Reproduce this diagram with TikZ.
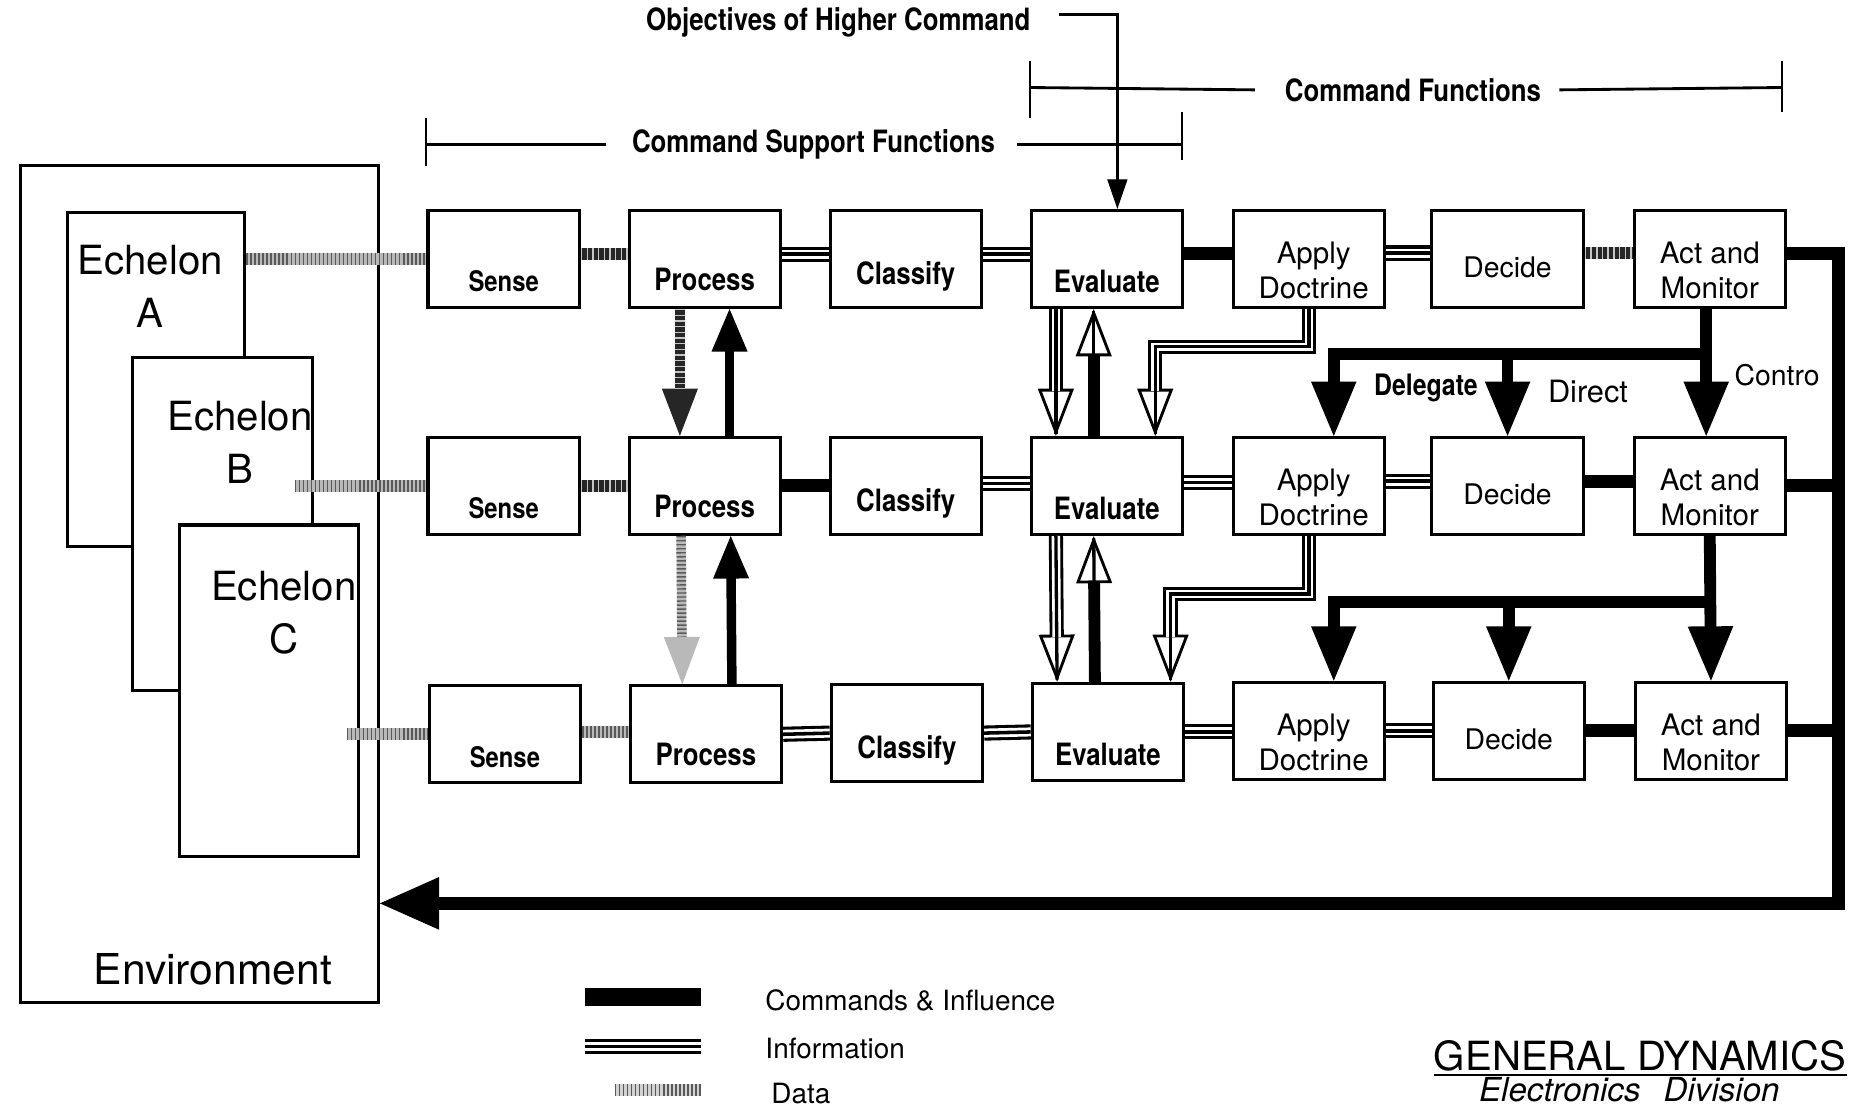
\documentclass[tikz,border=0pt]{standalone}
\usepackage{fontspec}
\setmainfont{TeX Gyre Heros}
\newfontfamily\nar[FakeStretch=0.84]{TeX Gyre Heros}
\usetikzlibrary{arrows.meta}
\begin{document}
\begin{tikzpicture}[x=0.5pt,y=-0.5pt,
  box/.style={draw,line width=1.3pt,fill=white,minimum width=64pt,minimum height=41pt,inner sep=0pt},
  echbox/.style={draw,line width=1.3pt,fill=white,inner sep=0pt},
  nb/.style={font=\nar\bfseries\fontsize{13}{15}\selectfont,inner sep=0pt},
  nbs/.style={font=\nar\bfseries\fontsize{12}{14}\selectfont,inner sep=0pt},
  rg/.style={font=\fontsize{12.5}{14.8}\selectfont,align=center,inner sep=0pt},
  big/.style={font=\fontsize{17}{22.5}\selectfont,align=center,inner sep=0pt},
  lg/.style={font=\fontsize{11.8}{14}\selectfont,anchor=west,inner sep=0pt},
  cmd/.style={draw=black,line width=5.5pt},
  info/.style={draw=black,line width=6.4pt,postaction={draw=white,line width=3.8pt},postaction={draw=black,line width=1.5pt}},
  data/.style={draw=gray!55,line width=5pt,postaction={draw=black!65,line width=5pt,dash pattern=on 0.6pt off 1.1pt}},
  ddata/.style={draw=black!85,line width=5pt,postaction={draw=gray!45,line width=5pt,dash pattern=on 0.6pt off 1.8pt}},
  cmdarr/.style={draw=black,line width=5pt,-{Triangle[length=23pt,width=19pt,line width=1pt]}},
  procarr/.style={draw=black,line width=4pt,-{Triangle[length=18pt,width=15pt,line width=1pt]}},
  ddataarr/.style={draw=black!85,line width=4pt,-{Triangle[length=20pt,width=15pt,line width=1pt]},postaction={draw=gray!45,line width=4pt,arrows=-,dash pattern=on 0.6pt off 1.8pt,shorten >=20pt}},
  dataarr/.style={draw=gray!55,line width=4pt,-{Triangle[length=20pt,width=15pt,fill=gray!55,line width=1pt]},postaction={draw=black!65,line width=4pt,arrows=-,dash pattern=on 0.6pt off 1.1pt,shorten >=20pt}},
  infoarr/.style={draw=black,line width=6pt,-{Triangle[length=20pt,width=15pt,fill=white,line width=1.2pt]},postaction={draw=white,line width=3.6pt,arrows=-,shorten >=19pt},postaction={draw=black,line width=1.4pt,arrows=-,shorten >=1pt}},
  uparr/.style={draw=black,line width=5pt,-{Triangle[length=20pt,width=15pt,fill=white,line width=1.2pt]},postaction={draw=black,line width=1.4pt,arrows=-,shorten >=1pt}},
  brk/.style={line width=1.2pt},
  tk/.style={line width=0.8pt}
]
\useasboundingbox (0,0) rectangle (1568,939);

% ---------- environment and echelons
\node[echbox,minimum width=151.5pt,minimum height=354pt] (env) at (168.5,494) {};
\node[echbox,minimum width=75pt,minimum height=141pt] (echA) at (132,321) {};
\node[big] (tA) at (127,242) {Echelon\\A};
\node[echbox,minimum width=76pt,minimum height=141pt] (echB) at (188,443) {};
\node[big] (tB) at (203,374) {Echelon\\B};
\node[echbox,minimum width=75.5pt,minimum height=140pt] (echC) at (227.5,584) {};
\node[big] (tC) at (240,518) {Echelon\\C};
\node[big,font=\fontsize{18}{20}\selectfont] (tE) at (180,820) {Environment};

% ---------- boxes, top row
\node[box] (s1) at (426,219) {};
\node[box] (p1) at (596,219) {};
\node[box] (c1) at (766,219) {};
\node[box] (e1) at (936,219) {};
\node[box] (a1) at (1107,219) {};
\node[box] (d1) at (1275,219) {};
\node[box] (m1) at (1446,219) {};
% middle row
\node[box] (s2) at (426,411) {};
\node[box] (p2) at (596,411) {};
\node[box] (c2) at (766,411) {};
\node[box] (e2) at (936,411) {};
\node[box] (a2) at (1107,411) {};
\node[box] (d2) at (1275,411) {};
\node[box] (m2) at (1446,411) {};
% bottom row
\node[box] (s3) at (427,621) {};
\node[box] (p3) at (597,621) {};
\node[box] (c3) at (767,620) {};
\node[box] (e3) at (937,619) {};
\node[box] (a3) at (1107,618) {};
\node[box] (d3) at (1276,618) {};
\node[box] (m3) at (1447,618) {};

% ---------- box texts
\foreach \r in {1,2,3}{
  \node[nbs] (s\r t) at ([yshift=-9.5pt]s\r.center) {Sense};
  \node[nb] (p\r t) at ([yshift=-8.5pt]p\r.center) {Process};
  \node[nb] (c\r t) at ([yshift=-7.5pt]c\r.center) {Classify};
  \node[nb] (e\r t) at ([yshift=-9.5pt]e\r.center) {Evaluate};
  \node[rg] (a\r t) at ([xshift=2pt,yshift=-5pt]a\r.center) {Apply\\Doctrine};
  \node[rg,font=\fontsize{12}{14}\selectfont] (d\r t) at ([yshift=-3.5pt]d\r.center) {Decide};
  \node[rg] (m\r t) at ([yshift=-5pt]m\r.center) {Act and\\Monitor};
}

% ---------- top labels
\node[nb] (obj) at (709,19) {Objectives of Higher Command};
\draw[line width=1.4pt,-{Triangle[length=12.5pt,width=8.5pt,line width=0.5pt]}]
  ([xshift=12pt,yshift=3.5pt]obj.east) -| ([xshift=4.5pt]e1.north);

\node[nb] (cf) at (1195,76) {Command Functions};
\coordinate (cfl) at (871,74);
\coordinate (cfr) at (1507,74);
\draw[brk] (cfl) -- ([xshift=-12.5pt]cf.west);
\draw[brk] ([xshift=7.5pt]cf.east) -- (cfr);
\draw[tk] ([yshift=11pt]cfl) -- ([yshift=-13pt]cfl);
\draw[tk] ([yshift=11pt]cfr) -- ([yshift=-10.5pt]cfr);

\node[nb] (csf) at (688,122) {Command Support Functions};
\coordinate (csl) at (360,122);
\coordinate (csr) at (1000,122);
\draw[brk] (csl) -- ([xshift=-11pt]csf.west);
\draw[brk] ([xshift=9pt]csf.east) -- (csr);
\draw[tk] ([yshift=11pt]csl) -- ([yshift=-9pt]csl);
\draw[tk] ([yshift=13.5pt]csr) -- ([yshift=-6.5pt]csr);

% ---------- echelon data links
\path (s1.west -| echA.east) coordinate (da);
\path (s2.west -| echB.east) ++(-16,0) coordinate (db);
\path (s3.west -| echC.east) ++(-11,0) coordinate (dc);
\draw[data] (da) -- (s1.west);
\draw[data] (db) -- (s2.west);
\draw[data] (dc) -- (s3.west);

% ---------- horizontal connectors
\draw[ddata] ([yshift=2pt]s1.east) -- ([yshift=2pt]p1.west);
\draw[info] ([yshift=2pt]p1.east) -- ([yshift=2pt]c1.west);
\draw[info] ([yshift=2pt]c1.east) -- ([yshift=2pt]e1.west);
\draw[cmd] ([yshift=2.5pt]e1.east) -- ([yshift=2.5pt]a1.west);
\draw[info] ([yshift=2.5pt]a1.east) -- ([yshift=2.5pt]d1.west);
\draw[ddata] ([yshift=2.5pt]d1.east) -- ([yshift=2.5pt]m1.west);

\draw[ddata] (s2.east) -- (p2.west);
\draw[cmd] (p2.east) -- (c2.west);
\draw[info] ([yshift=1pt]c2.east) -- ([yshift=1pt]e2.west);
\draw[info] ([yshift=1.5pt]e2.east) -- ([yshift=1.5pt]a2.west);
\draw[info] ([yshift=2pt]a2.east) -- ([yshift=2pt]d2.west);
\draw[cmd] ([yshift=2pt]d2.east) -- ([yshift=2pt]m2.west);

\draw[data] ([yshift=1pt]s3.east) -- ([yshift=1pt]p3.west);
\draw[info] (p3.east) -- (c3.west);
\draw[info] (c3.east) -- (e3.west);
\draw[info] (e3.east) -- (e3.east -| a3.west);
\draw[info] (a3.east) -- (d3.west);
\draw[cmd] (d3.east) -- (m3.west);

% ---------- return to environment
\coordinate (rc) at (1555,764);
\draw[cmd,-{Triangle[length=25pt,width=22pt,line width=1pt]}]
  ([yshift=2.5pt]m1.east) -| (rc) -- (rc -| env.east);
\draw[cmd] (m2.east) -- (m2.east -| rc);
\draw[cmd] (m3.east) -- (m3.east -| rc);

% ---------- process verticals
\draw[ddataarr] ([xshift=-10.5pt]p1.south) -- ([xshift=-10.5pt]p2.north);
\draw[procarr] ([xshift=10.5pt]p2.north) -- ([xshift=10.5pt]p1.south);
\draw[dataarr] ([xshift=-10pt]p2.south) -- ([xshift=-10pt]p3.north);
\draw[procarr] ([xshift=11pt]p3.north) -- ([xshift=11pt]p2.south);

% ---------- evaluate verticals
\draw[infoarr] ([xshift=-21.5pt]e1.south) -- ([xshift=-21.5pt]e2.north);
\draw[uparr] ([xshift=-5.5pt]e2.north) -- ([xshift=-5.5pt]e1.south);
\draw[infoarr] ([xshift=-21.5pt]e2.south) -- ([xshift=-21.5pt]e3.north);
\draw[uparr] ([xshift=-5.5pt]e3.north) -- ([xshift=-5.5pt]e2.south);

% ---------- apply doctrine to evaluate
\draw[infoarr] (a1.south) -- ++(0,32) -| ([xshift=20.5pt]e2.north);
\draw[infoarr] (a2.south) -- ++(0,49) -| ([xshift=26.5pt]e3.north);

% ---------- command branches
\path (m1.south) ++(0,38) coordinate (j1);
\path (m2.south) ++(0,56) coordinate (j2);
\draw[cmdarr] ([xshift=-1.5pt]m1.south) -- ([xshift=-1.5pt]m2.north);
\draw[cmdarr] ([xshift=-1.5pt]j1) -| ([xshift=10.5pt]a2.north);
\draw[cmdarr] (j1 -| d2.north) -- (d2.north);
\draw[cmdarr] (m2.south) -- (m3.north);
\draw[cmdarr] (j2) -| ([xshift=10.5pt]a3.north);
\draw[cmdarr] (j2 -| d3.north) -- (d3.north);

\node[nb,font=\nar\bfseries\fontsize{12.5}{14}\selectfont] (del) at (1206,328) {Delegate};
\node[rg,font=\fontsize{13}{15}\selectfont] (dir) at (1343,331) {Direct};
\node[rg,font=\fontsize{12}{14}\selectfont] (ctl) at (1503,317) {Contro};

% ---------- legend
\coordinate (lg1a) at (495,843); \coordinate (lg1b) at (593,843);
\coordinate (lg2a) at (495,885); \coordinate (lg2b) at (593,885);
\coordinate (lg3a) at (520,922); \coordinate (lg3b) at (593,922);
\draw[cmd,line width=7.5pt] (lg1a) -- (lg1b);
\draw[info] (lg2a) -- (lg2b);
\draw[data,draw=gray!35] (lg3a) -- (lg3b);
\node[lg] (lt1) at (647,846) {Commands \& Influence};
\node[lg] (lt2) at (647,887) {Information};
\node[lg] (lt3) at (652,925) {Data};

% ---------- logo
\node[font=\fontsize{17}{20}\selectfont,anchor=east,inner sep=0pt] (gd) at (1562,893) {GENERAL DYNAMICS};
\draw[line width=1pt] ([yshift=-1.5pt]gd.south west) -- ([yshift=-1.5pt]gd.south east);
\node[font=\itshape\fontsize{14}{16}\selectfont,anchor=north,inner sep=0pt] (ed) at (1378,911) {Electronics\hspace{0.7em}Division};
\end{tikzpicture}
\end{document}
